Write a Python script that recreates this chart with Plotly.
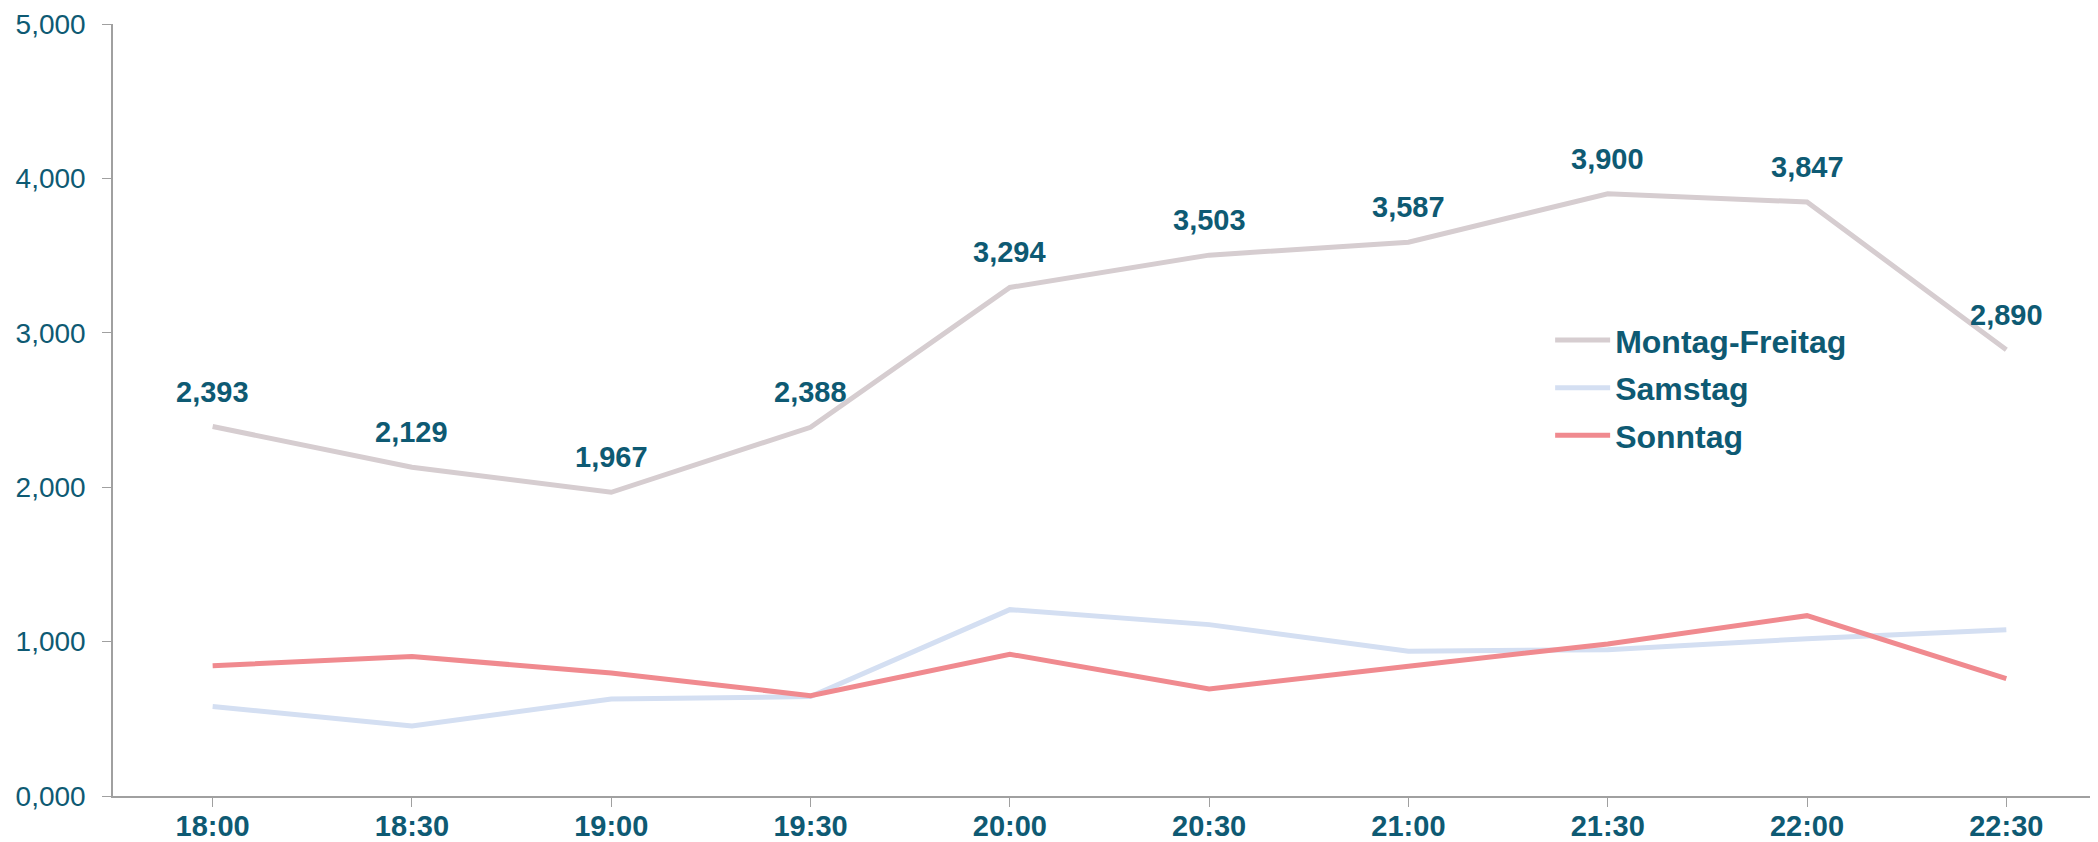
import plotly.graph_objects as go

categories = ["18:00", "18:30", "19:00", "19:30", "20:00", "20:30", "21:00", "21:30", "22:00", "22:30"]
montag_freitag = [2393, 2129, 1967, 2388, 3294, 3503, 3587, 3900, 3847, 2890]
samstag = [579, 454, 628, 644, 1207, 1110, 937, 948, 1019, 1076]
sonntag = [844, 903, 797, 650, 918, 693, 840, 985, 1168, 760]
y_tickvals = [0, 1000, 2000, 3000, 4000, 5000]
y_ticktext = ["0,000", "1,000", "2,000", "3,000", "4,000", "5,000"]

TEAL = "#0E5A73"
FONT = "Liberation Sans"
x_idx = list(range(len(categories)))

fig = go.Figure()
fig.add_trace(go.Scatter(x=x_idx, y=montag_freitag, mode="lines", name="Montag-Freitag",
                         legendgroup="a", line=dict(color="#D6CDD0", width=5)))
fig.add_trace(go.Scatter(x=x_idx, y=samstag, mode="lines", name="Samstag",
                         legendgroup="b", line=dict(color="#D4DFF2", width=5)))
fig.add_trace(go.Scatter(x=x_idx, y=sonntag, mode="lines", name="Sonntag",
                         legendgroup="c", line=dict(color="#F08A8F", width=5)))

for xi, v in zip(x_idx, montag_freitag):
    fig.add_annotation(x=xi, y=v, text=f"{v:,}", showarrow=False, yshift=35,
                       font=dict(family=FONT, size=29, color=TEAL, weight="bold"))

# the page body has an 8px default margin, so the figure is sized to fit the window
fig.update_layout(
    width=2090, height=834,
    margin=dict(l=105, r=0, t=16, b=46),
    paper_bgcolor="white", plot_bgcolor="white",
    showlegend=True,
    legend=dict(x=0.724, y=0.626, xanchor="left", yanchor="top",
                font=dict(family=FONT, size=32, color=TEAL, weight="bold"),
                itemwidth=55, bgcolor="rgba(0,0,0,0)", tracegroupgap=3),
    xaxis=dict(range=[-0.5, 9.46], tickmode="array", tickvals=x_idx, ticktext=categories,
               tickson="boundaries", ticks="outside", ticklen=9, tickcolor="#A0A0A0",
               showline=True, linecolor="#A0A0A0", linewidth=1.5, showgrid=False, zeroline=False,
               automargin=False, ticklabelstandoff=-6,
               tickfont=dict(family=FONT, size=29, color=TEAL, weight="bold")),
    yaxis=dict(range=[0, 5000], tickmode="array", tickvals=y_tickvals, ticktext=y_ticktext,
               ticks="outside", ticklen=9, tickcolor="#A0A0A0",
               showline=True, linecolor="#A0A0A0", linewidth=1.5, showgrid=False, zeroline=False,
               automargin=False, ticklabelstandoff=11,
               tickfont=dict(family=FONT, size=28, color=TEAL)),
)

fig.write_html("out.html")
